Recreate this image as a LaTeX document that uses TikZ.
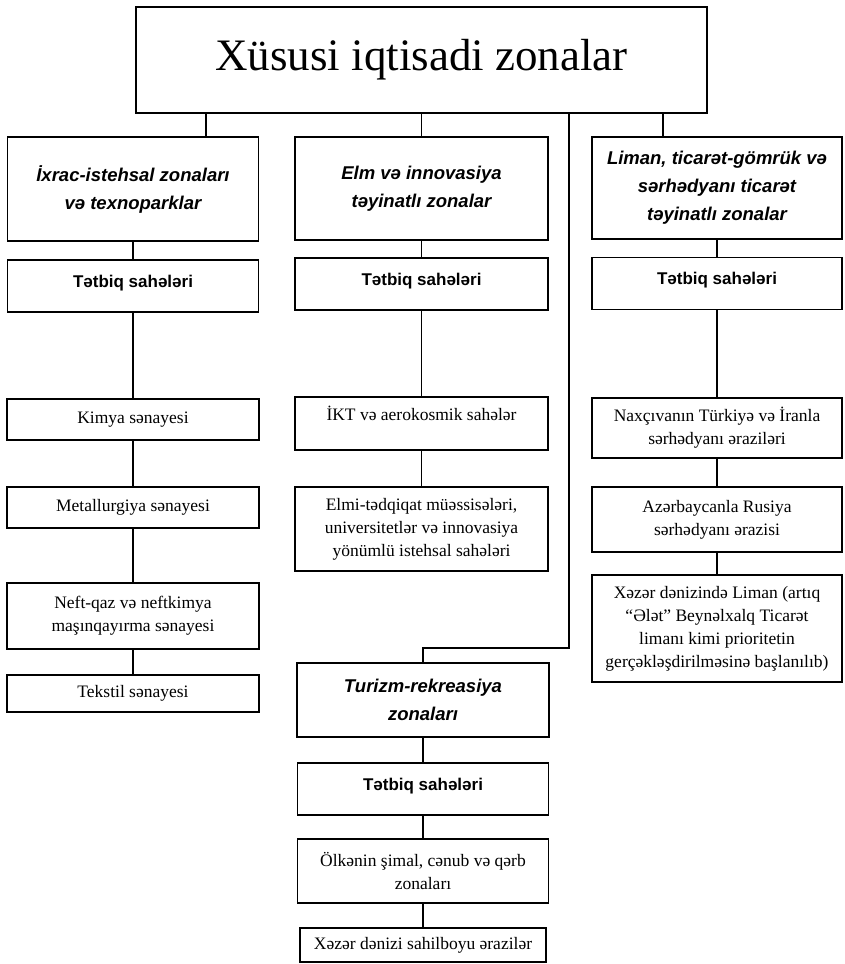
\documentclass[tikz,border=0pt]{standalone}
\usepackage{fontspec}
\setmainfont{Liberation Serif}
\newfontfamily\headfont{Liberation Sans}

\begin{document}
\begin{tikzpicture}[x=1pt, y=-1pt,
    box/.style={draw, line width=1.6pt, align=center, inner sep=2pt},
    head/.style={box, font=\headfont\bfseries\itshape\fontsize{18.5}{28}\selectfont},
    tatbiq/.style={box, minimum height=52pt, font=\headfont\bfseries\fontsize{17}{22}\selectfont},
    item/.style={box, font=\fontsize{17.5}{23}\selectfont},
    link/.style={line width=1.2pt}]
    \useasboundingbox (0,0) rectangle (844,964);

    \coordinate (jL) at (206,0);
    \coordinate (jR) at (663,0);
    \coordinate (bend) at (569,648);

    \node[box, minimum width=571pt, minimum height=106pt, font=\fontsize{45}{50}\selectfont] (top) at (421.5,60) {Xüsusi iqtisadi zonalar};

    \node[head, minimum width=251pt, minimum height=104pt] (ixrac) at (133,189) {İxrac-istehsal zonaları\\və texnoparklar};
    \node[head, minimum width=253pt, minimum height=103pt] (elm) at (421.5,188.5) {Elm və innovasiya\\təyinatlı zonalar};
    \node[head, minimum width=250pt, minimum height=102pt] (liman) at (717,188) {Liman, ticarət-gömrük və\\sərhədyanı ticarət\\təyinatlı zonalar};

    \node[tatbiq, minimum width=251pt, text depth=10pt] (tatL) at (133,286) {Tətbiq sahələri};
    \node[tatbiq, minimum width=253pt, text depth=10pt] (tatM) at (421.5,284) {Tətbiq sahələri};
    \node[tatbiq, minimum width=250pt, text depth=10pt] (tatR) at (717,283.5) {Tətbiq sahələri};

    \node[item, minimum width=252pt, minimum height=41pt] (kimya) at (133,419.5) {Kimya sənayesi};
    \node[item, minimum width=252pt, minimum height=41pt] (metal) at (133,507.5) {Metallurgiya sənayesi};
    \node[item, minimum width=252pt, minimum height=66pt] (neft) at (133,616) {Neft-qaz və neftkimya\\maşınqayırma sənayesi};
    \node[item, minimum width=252pt, minimum height=37pt] (tekstil) at (133,693.5) {Tekstil sənayesi};

    \node[item, minimum width=253pt, minimum height=53pt, text depth=20pt] (ikt) at (421.5,423.5) {İKT və aerokosmik sahələr};
    \node[item, minimum width=253pt, minimum height=84pt] (elmi) at (421.5,529) {Elmi-tədqiqat müəssisələri,\\universitetlər və innovasiya\\yönümlü istehsal sahələri};

    \node[item, minimum width=250pt, minimum height=60pt] (naxc) at (717,428) {Naxçıvanın Türkiyə və İranla\\sərhədyanı əraziləri};
    \node[item, minimum width=250pt, minimum height=65pt] (azrus) at (717,519.5) {Azərbaycanla Rusiya\\sərhədyanı ərazisi};
    \node[item, minimum width=250pt, minimum height=107pt] (xezer) at (717,628.5) {Xəzər dənizində Liman (artıq\\“Ələt” Beynəlxalq Ticarət\\limanı kimi prioritetin\\gerçəkləşdirilməsinə başlanılıb)};

    \node[head, minimum width=252pt, minimum height=74pt] (turizm) at (423,700) {Turizm-rekreasiya\\zonaları};
    \node[tatbiq, minimum width=251pt, text depth=10pt] (tatB) at (423,789) {Tətbiq sahələri};
    \node[item, minimum width=251pt, minimum height=64pt] (olke) at (423,871) {Ölkənin şimal, cənub və qərb\\zonaları};
    \node[item, minimum width=246pt, minimum height=34pt] (sahil) at (423,945) {Xəzər dənizi sahilboyu ərazilər};

    \draw[link] (top.south -| jL) -- (ixrac.north -| jL);
    \draw[link] (top) -- (elm);
    \draw[link] (top.south -| jR) -- (liman.north -| jR);
    \draw[link] (top.south -| bend) -- (bend) -| (turizm.north);

    \foreach \a/\b in {ixrac/tatL, tatL/kimya, kimya/metal, metal/neft, neft/tekstil,
                       elm/tatM, tatM/ikt, ikt/elmi,
                       liman/tatR, tatR/naxc, naxc/azrus, azrus/xezer,
                       turizm/tatB, tatB/olke, olke/sahil}
        \draw[link] (\a) -- (\b);
\end{tikzpicture}
\end{document}
